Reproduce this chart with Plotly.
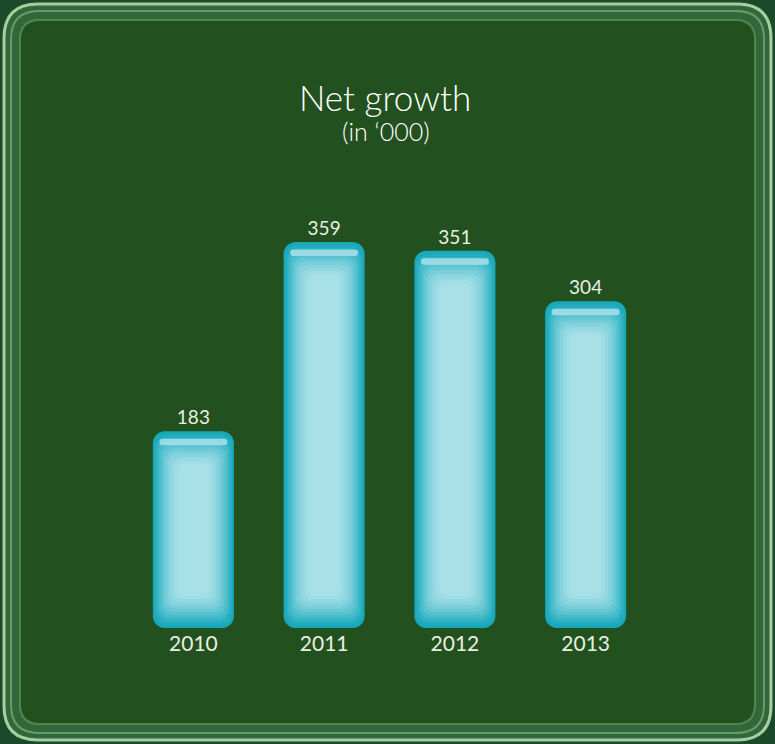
import plotly.graph_objects as go

# ---- data ----
years = ["2010", "2011", "2012", "2013"]
net_growth = [183, 359, 351, 304]
title_text = "Net growth"
subtitle_text = "(in \u2018000)"

W, H = 775, 744
BG = "#22501f"
EDGE = "#1b4a2a"
TXT = "#e9f0e3"

def rr_path(x0, y0, x1, y1, r):
    """rounded rectangle in pixel coords -> paper coords path"""
    def p(x, y):
        return f"{x / W:.5f},{1 - y / H:.5f}"
    return (f"M {p(x0 + r, y0)} L {p(x1 - r, y0)} Q {p(x1, y0)} {p(x1, y0 + r)} "
            f"L {p(x1, y1 - r)} Q {p(x1, y1)} {p(x1 - r, y1)} L {p(x0 + r, y1)} "
            f"Q {p(x0, y1)} {p(x0, y1 - r)} L {p(x0, y0 + r)} Q {p(x0, y0)} {p(x0 + r, y0)} Z")

fig = go.Figure()

# gradient layers: (width, vertical inset in data units, color, corner radius)
layers = [
    (0.620, 0.0, "#17a8ba", 12),
    (0.595, 3.0, "#24adbf", 12),
    (0.565, 6.0, "#34b4c5", 12),
    (0.535, 9.0, "#45bbcb", 11),
    (0.500, 12.0, "#57c2d0", 11),
    (0.465, 15.0, "#68c8d5", 10),
    (0.430, 18.0, "#78ceda", 10),
    (0.390, 21.0, "#87d3de", 9),
    (0.345, 24.0, "#94d8e1", 9),
    (0.295, 27.0, "#9fdce5", 8),
    (0.240, 30.0, "#a8e0e8", 7),
]
for i, (w, inset, col, cr) in enumerate(layers):
    fig.add_trace(go.Bar(
        x=years,
        y=[v - 2 * inset for v in net_growth],
        base=[inset] * len(net_growth),
        width=w,
        marker=dict(color=col, cornerradius=cr, line=dict(width=0)),
        text=[str(v) for v in net_growth] if i == 0 else None,
        textposition="outside" if i == 0 else "none",
        textfont=dict(family="Lato", size=19, color=TXT),
        cliponaxis=False,
        hoverinfo="skip" if i else "x+y",
        showlegend=False,
    ))

# top highlight strip
fig.add_trace(go.Bar(
    x=years,
    y=[6] * len(net_growth),
    base=[v - 13 for v in net_growth],
    width=0.52,
    marker=dict(color="rgba(175,228,236,0.8)", cornerradius=3, line=dict(width=0)),
    hoverinfo="skip",
    showlegend=False,
))

shapes = []
# glassy frame
shapes.append(dict(type="path", xref="paper", yref="paper",
                   path=rr_path(4, 4, 771, 740, 34),
                   fillcolor="rgba(120,190,110,0.25)", line=dict(color="rgba(200,235,190,0.8)", width=3),
                   layer="below"))
shapes.append(dict(type="path", xref="paper", yref="paper",
                   path=rr_path(11, 11, 764, 733, 28),
                   fillcolor="rgba(0,0,0,0)", line=dict(color="rgba(170,220,160,0.45)", width=2),
                   layer="below"))
shapes.append(dict(type="path", xref="paper", yref="paper",
                   path=rr_path(20, 20, 755, 724, 20),
                   fillcolor=BG, line=dict(color="rgba(140,200,130,0.4)", width=2),
                   layer="below"))

fig.update_layout(
    width=W, height=H,
    margin=dict(l=0, r=0, t=0, b=0),
    paper_bgcolor=EDGE,
    plot_bgcolor="rgba(0,0,0,0)",
    barmode="overlay",
    shapes=shapes,
    xaxis=dict(domain=[128 / W, 651 / W], showgrid=False, zeroline=False, showline=False,
               ticks="", ticklabelstandoff=1,
               tickfont=dict(family="Lato", size=21, color=TXT), fixedrange=True),
    yaxis=dict(domain=[(H - 628) / H, (H - 198) / H], range=[0, 400], visible=False,
               fixedrange=True),
    annotations=[
        dict(text=title_text, xref="paper", yref="paper", x=385 / W, y=1 - 97 / H,
             xanchor="center", yanchor="middle", showarrow=False,
             font=dict(family="Lato Light, Lato", size=35, color="#ffffff")),
        dict(text=subtitle_text, xref="paper", yref="paper", x=386 / W, y=1 - 131 / H,
             xanchor="center", yanchor="middle", showarrow=False,
             font=dict(family="Lato Light, Lato", size=25, color="#ffffff")),
    ],
)

fig.write_html("out.html", config={"displayModeBar": False},
               post_script="document.body.style.margin='0';document.body.style.overflow='hidden';")
